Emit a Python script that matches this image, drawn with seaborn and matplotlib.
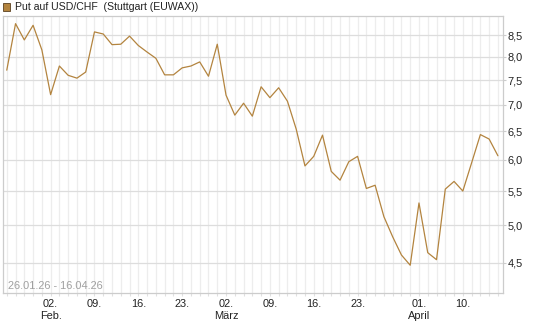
import matplotlib
matplotlib.use("Agg")
import matplotlib.pyplot as plt
import matplotlib.patches as mpatches
import seaborn as sns
import pandas as pd

# trading days 26.01.26 - 16.04.26 (no weekends, no Good Friday / Easter Monday)
dates = ["26.01", "27.01", "28.01", "29.01", "30.01",
         "02.02", "03.02", "04.02", "05.02", "06.02",
         "09.02", "10.02", "11.02", "12.02", "13.02",
         "16.02", "17.02", "18.02", "19.02", "20.02",
         "23.02", "24.02", "25.02", "26.02", "27.02",
         "02.03", "03.03", "04.03", "05.03", "06.03",
         "09.03", "10.03", "11.03", "12.03", "13.03",
         "16.03", "17.03", "18.03", "19.03", "20.03",
         "23.03", "24.03", "25.03", "26.03", "27.03",
         "30.03", "31.03", "01.04", "02.04", "07.04",
         "08.04", "09.04", "10.04", "13.04", "14.04",
         "15.04", "16.04"]
prices = [7.71, 8.78, 8.39, 8.74, 8.16, 7.20, 7.80, 7.60, 7.54, 7.67,
          8.58, 8.53, 8.28, 8.29, 8.48, 8.26, 8.11, 7.97, 7.61, 7.61,
          7.76, 7.80, 7.89, 7.58, 8.29, 7.19, 6.80, 7.03, 6.78, 7.36,
          7.14, 7.34, 7.07, 6.54, 5.90, 6.06, 6.43, 5.81, 5.67, 5.97,
          6.06, 5.54, 5.59, 5.12, 4.84, 4.60, 4.47, 5.32, 4.63, 4.54,
          5.53, 5.65, 5.50, 5.95, 6.44, 6.36, 6.07]

tick_dates = ["02.02", "09.02", "16.02", "23.02", "02.03", "09.03",
              "16.03", "23.03", "01.04", "10.04"]
tick_labels = ["02.\nFeb.", "09.", "16.", "23.", "02.\nMärz", "09.",
               "16.", "23.", "01.\nApril", "10."]
y_ticks = [4.5, 5.0, 5.5, 6.0, 6.5, 7.0, 7.5, 8.0, 8.5]

df = pd.DataFrame({"i": range(len(dates)), "price": prices})

sns.set_theme(style="white")
plt.rcParams["font.family"] = ["Liberation Sans", "DejaVu Sans"]

line_col = "#b3843f"
fs = 7.9
fig = plt.figure(figsize=(5.45, 3.27), dpi=100)
ax = fig.add_axes([3 / 545, 1 - 292.7 / 327, 500 / 545, 276.7 / 327])

sns.lineplot(data=df, x="i", y="price", ax=ax, color=line_col, lw=0.9)

ax.set_yscale("log")
ax.set_ylim(4.14, 8.97)
ax.set_xlim(-0.43, 56.58)

ax.set_yticks(y_ticks)
ax.set_yticklabels([f"{v:.1f}".replace(".", ",") for v in y_ticks])
ax.yaxis.set_minor_locator(matplotlib.ticker.NullLocator())
ax.yaxis.tick_right()

ax.set_xticks([dates.index(d) for d in tick_dates])
ax.set_xticklabels(tick_labels, linespacing=1.2, va="top")
ax.set_xticks(range(len(dates)), minor=True)

ax.grid(True, which="major", axis="y", color="#dddddd", lw=0.9)
ax.grid(True, which="both", axis="x", color="#ededed", lw=0.9)
ax.set_axisbelow(True)

for s in ax.spines.values():
    s.set_color("#cccccc")
    s.set_linewidth(0.9)

ax.tick_params(axis="y", which="major", length=2.5, width=0.8, color="#cccccc",
               labelsize=fs, labelcolor="#222222", pad=1, right=True, left=False)
ax.tick_params(axis="x", which="both", length=2, width=0.8, color="#e0e0e0",
               labelsize=fs, labelcolor="#222222", pad=2.5, bottom=True)
ax.set_xlabel("")
ax.set_ylabel("")

ax.text(5 / 500, 0.005, "26.01.26 - 16.04.26", transform=ax.transAxes,
        fontsize=fs, color="#a0a0a0", ha="left", va="bottom")

fig.patches.append(mpatches.Rectangle((3 / 545, 1 - 10.5 / 327), 7 / 545, 7 / 327,
                                      transform=fig.transFigure, facecolor=line_col,
                                      edgecolor="#5a4020", lw=0.6))
fig.text(15 / 545, 1 - 7 / 327, "Put auf USD/CHF  (Stuttgart (EUWAX))",
         fontsize=7.6, color="#222222", ha="left", va="center")

fig.savefig("out.png", dpi=100)
